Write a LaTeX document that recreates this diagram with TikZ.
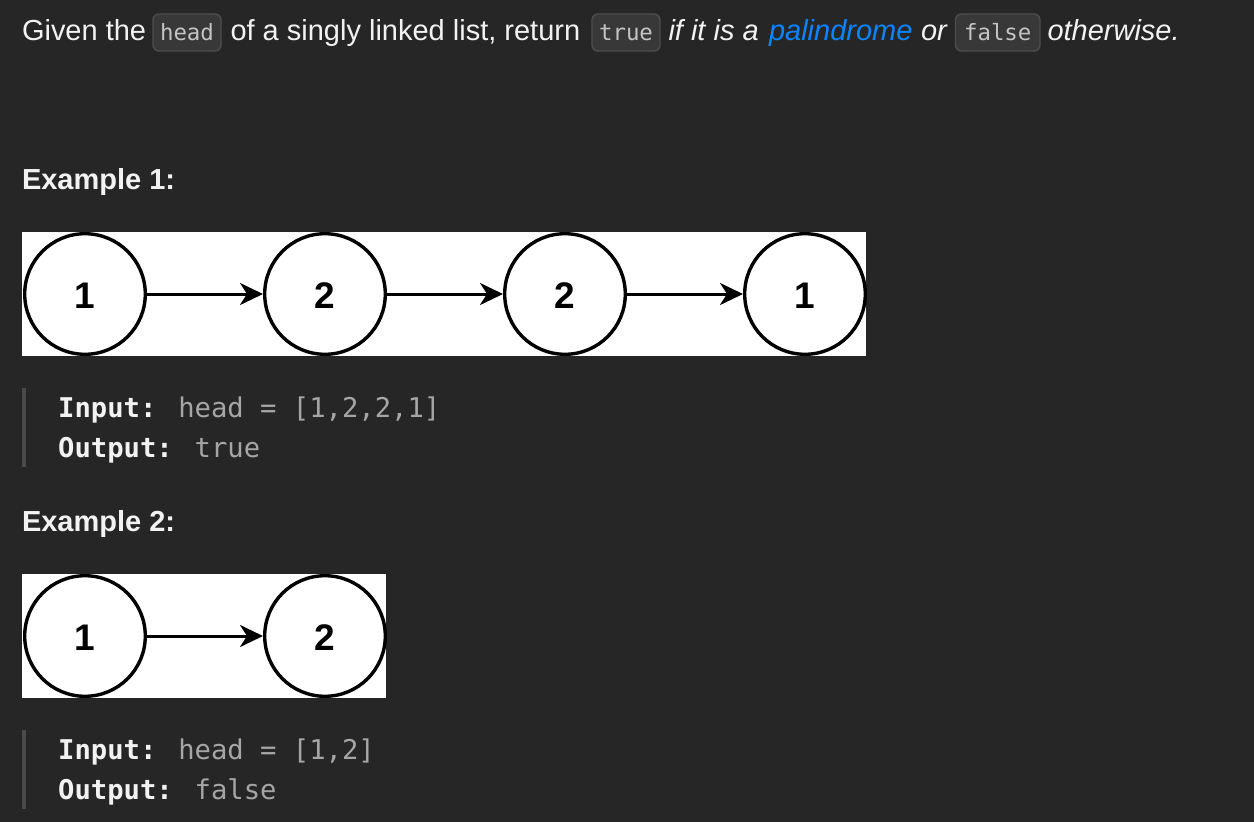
\documentclass[tikz,border=0pt]{standalone}
\usepackage{fontspec}
\setmainfont{Liberation Sans}
\newfontfamily\monof{DejaVu Sans Mono}
\usetikzlibrary{arrows.meta}
\definecolor{bg}{HTML}{262626}
\definecolor{codefill}{HTML}{383838}
\definecolor{codeborder}{HTML}{4D4D4D}
\definecolor{codetext}{HTML}{C4C4C4}
\definecolor{linkblue}{HTML}{0A84FF}
\definecolor{quotebar}{HTML}{4A4A4A}
\definecolor{quotetext}{HTML}{A6A6A6}
\definecolor{headtext}{HTML}{F2F2F2}
\begin{document}
\begin{tikzpicture}[x=1pt,y=-1pt,
  txt/.style={anchor=base west, inner sep=0pt, outer sep=0pt, text=headtext, font=\fontsize{29}{34}\selectfont},
  itxt/.style={txt, font=\fontsize{29}{34}\selectfont\itshape},
  heading/.style={txt, font=\fontsize{29}{34}\selectfont\bfseries},
  codebox/.style={draw=codeborder, fill=codefill, line width=1.4pt, rounded corners=6pt},
  codetxt/.style={anchor=base, inner sep=0pt, text=codetext, font=\monof\fontsize{22.4}{26}\selectfont},
  panel/.style={fill=white, draw=none},
  listnode/.style={circle, draw=black, fill=white, line width=3.4pt, minimum size=120.6pt, inner sep=0pt},
  digit/.style={anchor=base, inner sep=0pt, text=black, font=\fontsize{37}{40}\selectfont\bfseries},
  link/.style={draw=black, line width=3pt, -{Stealth[length=23pt, width=22pt, inset=7pt]}},
  bar/.style={fill=quotebar, draw=none},
  mono/.style={anchor=base west, inner sep=0pt, text=quotetext, font=\monof\fontsize{27.2}{32}\selectfont},
]
% background / bounding box
\fill[bg] (0,0) rectangle (1254,822);
\useasboundingbox (0,0) rectangle (1254,822);

% ---- title line ----
\node[txt] (t1) at (22,40) {Given the};
\draw[codebox] (153,14) rectangle (221,51);
\node[codetxt] (c1) at (187,40) {head};
\node[txt] (t2) at (230.5,40) {of a singly linked list, return};
\draw[codebox] (592,14) rectangle (660,51);
\node[codetxt] (c2) at (626,40) {true};
\node[itxt] (t3) at (668.5,40) {if it is a};
\node[itxt, text=linkblue] (t4) at (769,40) {palindrome};
\node[itxt] (t5) at (921,40) {or};
\draw[codebox] (955.5,14) rectangle (1040,51);
\node[codetxt] (c3) at (997.75,40) {false};
\node[itxt] (t6) at (1047.5,40) {otherwise.};

% ---- Example 1 ----
\node[heading] (h1) at (22,189) {Example 1:};
\fill[panel] (22,232) rectangle (866,356);
\node[listnode] (a1) at (85,294) {};
\node[listnode] (a2) at (325,294) {};
\node[listnode] (a3) at (565,294) {};
\node[listnode] (a4) at (805,294) {};
\node[digit] (d1) at (85,308) {1};
\node[digit] (d2) at (325,308) {2};
\node[digit] (d3) at (565,308) {2};
\node[digit] (d4) at (805,308) {1};
\draw[link] (a1) -- (a2);
\draw[link] (a2) -- (a3);
\draw[link] (a3) -- (a4);

\fill[bar] (22,388) rectangle (25.5,467);
\node[mono] (i1) at (58,417) {\textcolor{headtext}{\bfseries Input:} head = [1,2,2,1]};
\node[mono] (o1) at (58,457) {\textcolor{headtext}{\bfseries Output:} true};

% ---- Example 2 ----
\node[heading] (h2) at (22,531) {Example 2:};
\fill[panel] (22,574) rectangle (386,698);
\node[listnode] (b1) at (85,636) {};
\node[listnode] (b2) at (325,636) {};
\node[digit] (e1) at (85,650) {1};
\node[digit] (e2) at (325,650) {2};
\draw[link] (b1) -- (b2);

\fill[bar] (22,730) rectangle (25.5,809);
\node[mono] (i2) at (58,759) {\textcolor{headtext}{\bfseries Input:} head = [1,2]};
\node[mono] (o2) at (58,799) {\textcolor{headtext}{\bfseries Output:} false};
\end{tikzpicture}
\end{document}
